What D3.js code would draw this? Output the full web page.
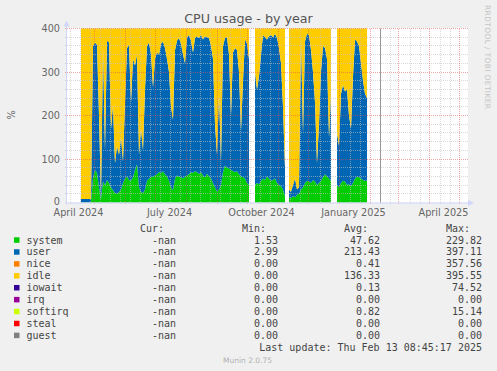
<!doctype html>
<html lang='en'>
<head>
<meta charset='utf-8'>
<title>CPU usage - by year</title>
<script src='https://cdn.jsdelivr.net/npm/d3@7/dist/d3.min.js'></script>
<style>
    body { margin: 0; background: #f0f0f0; }
    svg { display: block; }
    .title { font: 12.7px 'DejaVu Sans'; fill: #555; }
    .tick text { font: 9.7px 'DejaVu Sans'; fill: #666; }
    .ylabel { font: 9.7px 'DejaVu Sans'; fill: #666; }
    .legend { font: 10px 'DejaVu Sans Mono'; fill: #444; }
    .watermark { font: 7.5px 'DejaVu Sans'; fill: #c4c4c4; }
    .version { font: 7.5px 'DejaVu Sans'; fill: #b0b0b0; }
</style>
</head>
<body>
<svg id='chart' width='497' height='371'></svg>
<script>
    // one sample every two days from 18 April 2024, null where munin has no data
    const firstDay = new Date(Date.UTC(2024, 3, 18));
    const stepDays = 2;

    const system = [0.5, 0.5, 0.5, 0.5, 0.5, 1,
        55, 75, 68, 35, 8, 48, 40, 52, 45, 35,
        28, 22, 20, 24, 30, 45, 55, 60, 52, 50,
        58, 75, 88, 35, 25, 22, 30, 50, 55, 58,
        60, 62, 65, 70, 68, 72, 65, 60, 50, 35,
        28, 55, 62, 60, 58, 55, 60, 62, 65, 70,
        68, 72, 70, 65, 70, 62, 58, 66, 60, 55,
        45, 35, 25, 30, 40, 70, 85, 80, 78, 75,
        72, 70, 72, 65, 60, 58, 55, 45, 40, null,
        null, 40, 45, 42, 50, 55, 52, 60, 55, 50,
        52, 55, 45, 40, 38, 30, 15, null, 12, 10,
        15, 12, 18, 20, 30, 35, 45, 50, 48, 45,
        52, 48, 40, 45, 50, 58, 65, 60, 55, 50,
        null, null, 40, 35, 45, 50, 48, 40, 42, 38,
        45, 55, 60, 58, 55, 52, 50, 50];
    const user = [7.5, 7.5, 7.5, 7.5, 7.5, 7,
        305, 293, 294, 165, 4, 312, 80, 320, 323, 135,
        197, 68, 110, 86, 120, 50, 175, 295, 310, 180,
        272, 240, 252, 75, 145, 98, 230, 310, 313, 282,
        205, 268, 280, 270, 297, 298, 290, 270, 250, 185,
        162, 295, 310, 318, 307, 285, 260, 318, 320, 302,
        277, 306, 312, 313, 315, 313, 324, 314, 318, 305,
        285, 145, 85, 220, 55, 290, 293, 300, 262, 125,
        273, 285, 278, 235, 105, 222, 320, 320, 290, null,
        null, 260, 215, 248, 290, 330, 328, 315, 327, 335,
        328, 333, 333, 315, 282, 190, 65, null, 18, 15,
        25, 43, 12, 15, 350, 125, 325, 338, 337, 305,
        248, 182, 50, 135, 250, 302, 290, 270, 95, 200,
        null, null, 120, 95, 205, 220, 207, 220, 158, 132,
        245, 320, 310, 302, 265, 228, 200, 190];
    const idle = [392, 392, 392, 392, 392, 392,
        40, 32, 38, 200, 388, 40, 280, 28, 32, 230,
        175, 310, 270, 290, 250, 305, 170, 45, 38, 170,
        70, 85, 60, 290, 230, 280, 140, 40, 32, 60,
        135, 70, 55, 60, 35, 30, 45, 70, 100, 180,
        210, 50, 28, 22, 35, 60, 80, 20, 15, 28,
        55, 22, 18, 22, 15, 25, 18, 20, 22, 40,
        70, 220, 290, 150, 305, 40, 22, 20, 60, 200,
        55, 45, 50, 100, 235, 120, 25, 35, 70, null,
        null, 100, 140, 110, 60, 15, 20, 25, 18, 15,
        20, 12, 22, 45, 80, 180, 320, null, 370, 375,
        360, 345, 370, 365, 20, 240, 30, 12, 15, 50,
        100, 170, 310, 220, 100, 40, 45, 70, 250, 150,
        null, null, 240, 270, 150, 130, 145, 140, 200, 230,
        110, 25, 30, 40, 80, 120, 150, 160];

    const seriesNames = ['system', 'user', 'nice', 'idle', 'iowait', 'irq', 'softirq', 'steal', 'guest'];
    const seriesColors = ['#00cc00', '#0066b3', '#ff8000', '#ffcc00', '#330099', '#990099', '#ccff00', '#ff0000', '#808080'];
    const curValues = ['-nan', '-nan', '-nan', '-nan', '-nan', '-nan', '-nan', '-nan', '-nan'];
    const minValues = ['1.53', '2.99', '0.00', '0.00', '0.00', '0.00', '0.00', '0.00', '0.00'];
    const avgValues = ['47.62', '213.43', '0.41', '136.33', '0.13', '0.00', '0.82', '0.00', '0.00'];
    const maxValues = ['229.82', '397.11', '357.56', '395.55', '74.52', '0.00', '15.14', '0.00', '0.00'];

    const yTicks = [0, 100, 200, 300, 400];
    const xLabels = ['April 2024', 'July 2024', 'October 2024', 'January 2025', 'April 2025'];
    const xLabelDates = ['2024-04-15', '2024-07-15', '2024-10-15', '2025-01-15', '2025-04-15'];
    const markerDate = '2025-02-11';
    const lastUpdate = 'Last update: Thu Feb 13 08:45:17 2025';

    const svg = d3.select('#chart');
    const plotLeft = 67, plotRight = 468, plotTop = 28.5, plotBottom = 202.5;

    const x = d3.scaleUtc()
        .domain([new Date(Date.UTC(2024, 3, 4)), new Date(Date.UTC(2025, 4, 10))])
        .range([plotLeft, plotRight]);
    const y = d3.scaleLinear().domain([0, 400]).range([plotBottom, plotTop]);

    svg.append('rect')
        .attr('x', plotLeft).attr('y', plotTop - 0.5)
        .attr('width', plotRight - plotLeft).attr('height', plotBottom - plotTop + 0.5)
        .attr('fill', '#fff');

    // stacked areas: system, user, idle
    const rows = system.map((s, i) => ({
        date: d3.utcDay.offset(firstDay, i * stepDays),
        system: s, user: user[i], idle: idle[i]
    }));
    const layers = d3.stack().keys(['system', 'user', 'idle'])(rows);

    const area = d3.area()
        .defined(d => d.data.system !== null)
        .x(d => x(d.data.date))
        .y0(d => y(d[0]))
        .y1(d => y(d[1]));

    svg.append('g').selectAll('path')
        .data(layers)
        .enter()
        .append('path')
        .attr('d', area)
        .attr('fill', d => seriesColors[seriesNames.indexOf(d.key)]);

    // grid drawn over the data, like rrdtool
    const grid = svg.append('g').attr('shape-rendering', 'crispEdges').attr('stroke-dasharray', '1,1');

    const months = d3.utcMonth.range(x.domain()[0], x.domain()[1]);
    const monthX = months.map(m => Math.round(x(m)));
    const tenDays = d3.utcDay.range(x.domain()[0], x.domain()[1])
        .filter(d => Math.round(d.getTime() / 864e5) % 10 === 0)
        .map(d => Math.round(x(d)))
        .filter(px => monthX.every(m => Math.abs(m - px) > 2));

    const minorY = d3.range(20, 401, 20).filter(v => v % 100 !== 0);

    grid.selectAll('.minor-v')
        .data(tenDays)
        .enter()
        .append('line')
        .attr('x1', d => d + 0.5).attr('x2', d => d + 0.5)
        .attr('y1', plotTop).attr('y2', plotBottom + 2)
        .attr('stroke', 'rgba(192,192,192,0.6)');

    grid.selectAll('.minor-h')
        .data(minorY)
        .enter()
        .append('line')
        .attr('x1', plotLeft - 2).attr('x2', plotRight)
        .attr('y1', d => Math.floor(y(d)) + 0.5).attr('y2', d => Math.floor(y(d)) + 0.5)
        .attr('stroke', 'rgba(192,192,192,0.6)');

    grid.selectAll('.major-v')
        .data(monthX.filter(m => m > plotLeft && m < plotRight))
        .enter()
        .append('line')
        .attr('x1', d => d + 0.5).attr('x2', d => d + 0.5)
        .attr('y1', plotTop).attr('y2', plotBottom + 2)
        .attr('stroke', 'rgba(224,80,80,0.5)');

    grid.selectAll('.major-h')
        .data(yTicks.filter(v => v > 0))
        .enter()
        .append('line')
        .attr('x1', plotLeft - 2).attr('x2', plotRight)
        .attr('y1', d => Math.floor(y(d)) + 0.5).attr('y2', d => Math.floor(y(d)) + 0.5)
        .attr('stroke', 'rgba(224,80,80,0.5)');

    // grey marker line
    const mx = Math.round(x(new Date(markerDate))) + 0.5;
    svg.append('line')
        .attr('x1', mx).attr('x2', mx)
        .attr('y1', plotTop).attr('y2', plotBottom)
        .attr('stroke', '#999');

    // axes and arrows
    const axisColor = '#cfd6f8';
    svg.append('line')
        .attr('x1', plotLeft - 2).attr('x2', plotRight + 1)
        .attr('y1', plotBottom + 0.5).attr('y2', plotBottom + 0.5)
        .attr('stroke', axisColor);
    svg.append('line')
        .attr('x1', plotLeft - 0.5).attr('x2', plotLeft - 0.5)
        .attr('y1', plotBottom + 2).attr('y2', plotTop - 4)
        .attr('stroke', axisColor);
    svg.append('path')
        .attr('d', `M${plotRight},${plotBottom - 2.5}L${plotRight + 6},${plotBottom + 0.5}L${plotRight},${plotBottom + 3.5}Z`)
        .attr('fill', axisColor);
    svg.append('path')
        .attr('d', `M${plotLeft - 3.5},${plotTop - 2}L${plotLeft - 0.5},${plotTop - 8}L${plotLeft + 2.5},${plotTop - 2}Z`)
        .attr('fill', axisColor);

    const yAxis = svg.append('g')
        .attr('transform', `translate(${plotLeft - 1},0)`)
        .call(d3.axisLeft(y).tickValues(yTicks).tickSize(0).tickPadding(6));
    yAxis.select('.domain').remove();
    // nudge the zero label up a touch so it clears the month labels
    yAxis.selectAll('.tick text').filter(d => d === 0).attr('dy', '0.2em');

    const xAxis = svg.append('g')
        .attr('transform', `translate(0,${plotBottom})`)
        .call(d3.axisBottom(x)
            .tickValues(xLabelDates.map(d => new Date(d)))
            .tickFormat((d, i) => xLabels[i])
            .tickSize(0).tickPadding(6.5));
    xAxis.select('.domain').remove();

    svg.append('text')
        .attr('class', 'title')
        .attr('x', 248.5).attr('y', 23)
        .attr('text-anchor', 'middle')
        .text('CPU usage - by year');

    svg.append('text')
        .attr('class', 'ylabel')
        .attr('transform', 'translate(15,115) rotate(-90)')
        .attr('text-anchor', 'middle')
        .text('%');

    svg.append('text')
        .attr('class', 'watermark')
        .attr('transform', 'translate(484.5,5) rotate(90)')
        .attr('textLength', 104)
        .attr('lengthAdjust', 'spacing')
        .text('RRDTOOL / TOBI OETIKER');

    // legend
    const colRight = [176, 278, 380, 482];
    const headers = ['Cur:', 'Min:', 'Avg:', 'Max:'];
    const legend = svg.append('g').attr('class', 'legend');

    legend.selectAll('.header')
        .data(headers)
        .enter()
        .append('text')
        .attr('x', (d, i) => colRight[i] - 12)
        .attr('y', 228.3).attr('dy', '0.35em')
        .attr('text-anchor', 'end')
        .text(d => d);

    const rowsG = legend.selectAll('.row')
        .data(seriesNames)
        .enter()
        .append('g')
        .attr('transform', (d, i) => `translate(0,${240 + i * 11.92})`);

    rowsG.append('rect')
        .attr('x', 14).attr('y', -2.7)
        .attr('width', 5.5).attr('height', 5.5)
        .attr('fill', (d, i) => seriesColors[i]);

    rowsG.append('text')
        .attr('x', 26.5).attr('dy', '0.35em')
        .text(d => d);

    [curValues, minValues, avgValues, maxValues].forEach((col, c) => {
        rowsG.append('text')
            .attr('x', colRight[c]).attr('dy', '0.35em')
            .attr('text-anchor', 'end')
            .text((d, i) => col[i]);
    });

    legend.append('text')
        .attr('x', 482).attr('y', 347.3).attr('dy', '0.35em')
        .attr('text-anchor', 'end')
        .text(lastUpdate);

    svg.append('text')
        .attr('class', 'version')
        .attr('x', 247.5).attr('y', 363)
        .attr('text-anchor', 'middle')
        .text('Munin 2.0.75');
</script>
</body>
</html>
